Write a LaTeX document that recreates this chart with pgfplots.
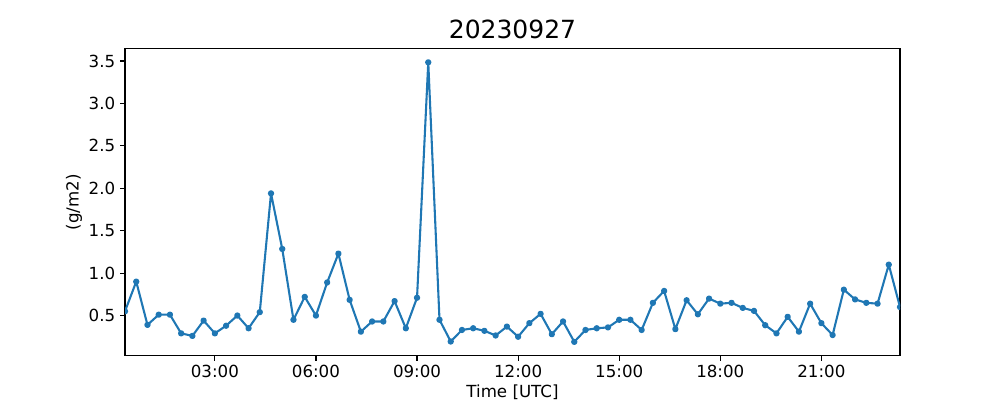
\documentclass[border=0pt]{standalone}
\usepackage{pgfplots}
\pgfplotsset{compat=1.18}
\usepackage{fontspec}
\setmainfont{DejaVu Sans}
\definecolor{mplblue}{HTML}{1F77B4}
\begin{document}
\begin{tikzpicture}
\begin{axis}[
  scale only axis,
  width=558pt, height=221.4pt,
  xmin=0.3333, xmax=23.3333,
  ymin=0.025, ymax=3.65,
  xtick={3,6,9,12,15,18,21},
  xticklabels={03:00,06:00,09:00,12:00,15:00,18:00,21:00},
  ytick={0.5,1,1.5,2,2.5,3,3.5},
  yticklabel style={/pgf/number format/.cd,fixed,fixed zerofill,precision=1,assume math mode=true},
  tick label style={font=\fontsize{12}{14}\selectfont},
  label style={font=\fontsize{12}{14}\selectfont},
  xlabel={Time [UTC]},
  ylabel={(g/m2)},
  title={20230927},
  title style={font=\fontsize{18}{21}\selectfont, yshift=-3pt},
  tick align=outside,
  tick pos=left,
  major tick length=3.5pt,
  axis line style={line width=0.8pt},
  every tick/.style={black, line width=0.8pt},
  xlabel style={yshift=2pt},
  ylabel style={yshift=-2pt},
  clip marker paths=true,
]
\addplot[color=mplblue, line width=1.5pt, line join=round, mark=*, mark size=1.5pt, mark options={solid}] coordinates {
(0.3333,0.55) (0.6667,0.90) (1.0,0.39) (1.3333,0.51) (1.6667,0.51)
(2.0,0.29) (2.3333,0.26) (2.6667,0.44) (3.0,0.29) (3.3333,0.38)
(3.6667,0.50) (4.0,0.35) (4.3333,0.54) (4.6667,1.94) (5.0,1.285)
(5.3333,0.45) (5.6667,0.72) (6.0,0.50) (6.3333,0.89) (6.6667,1.23)
(7.0,0.685) (7.3333,0.31) (7.6667,0.43) (8.0,0.43) (8.3333,0.67)
(8.6667,0.35) (9.0,0.71) (9.3333,3.485) (9.6667,0.45) (10.0,0.194)
(10.3333,0.33) (10.6667,0.35) (11.0,0.32) (11.3333,0.265) (11.6667,0.37)
(12.0,0.25) (12.3333,0.41) (12.6667,0.52) (13.0,0.28) (13.3333,0.43)
(13.6667,0.19) (14.0,0.33) (14.3333,0.35) (14.6667,0.36) (15.0,0.45)
(15.3333,0.45) (15.6667,0.33) (16.0,0.65) (16.3333,0.79) (16.6667,0.34)
(17.0,0.68) (17.3333,0.515) (17.6667,0.70) (18.0,0.64) (18.3333,0.65)
(18.6667,0.59) (19.0,0.555) (19.3333,0.386) (19.6667,0.29) (20.0,0.485)
(20.3333,0.31) (20.6667,0.64) (21.0,0.41) (21.3333,0.27) (21.6667,0.805)
(22.0,0.69) (22.3333,0.65) (22.6667,0.64) (23.0,1.10) (23.3333,0.60)
};
\end{axis}
\path[use as bounding box] (-90pt,-31.9pt) rectangle (630pt,256.2pt);
\end{tikzpicture}
\end{document}
